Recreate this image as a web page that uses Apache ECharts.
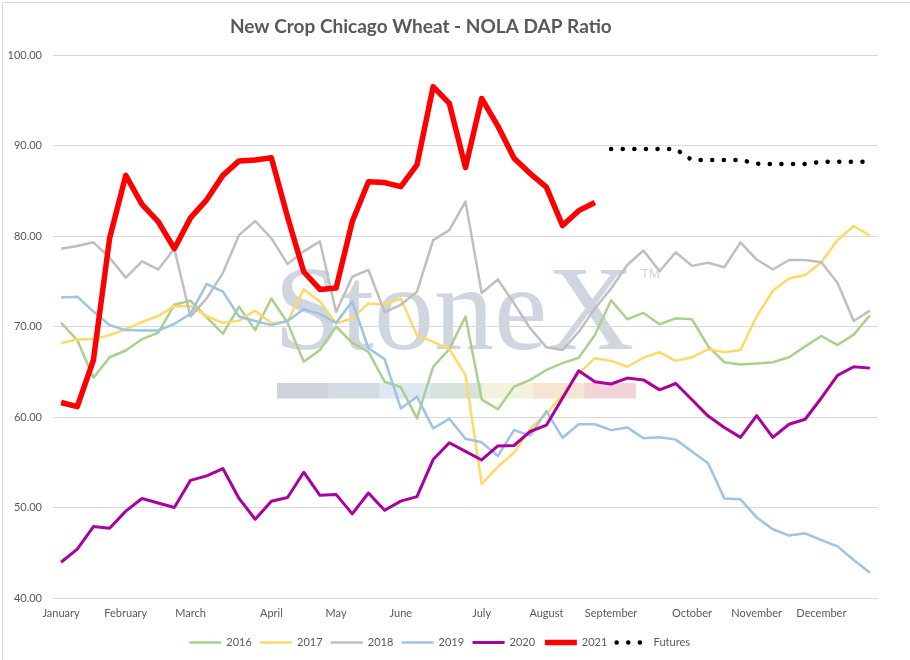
<!DOCTYPE html>
<html>
<head>
<meta charset="utf-8">
<script src="https://cdn.jsdelivr.net/npm/echarts@6/dist/echarts.min.js"></script>
<style>
  html, body { margin: 0; padding: 0; background: #fff; }
  #main { width: 910px; height: 660px; }
</style>
</head>
<body>
<div id="main"></div>
<script>
// month label shown at the first week of each month
var monthNames = ['January','February','March','April','May','June','July','August','September','October','November','December'];
var monthStart = [0,4,8,13,17,21,26,30,34,39,43,47];

var y2016 = [70.4,68.5,64.35,66.6,67.35,68.6,69.3,72.4,72.85,71.0,69.2,72.2,69.6,73.1,70.4,66.1,67.4,70.0,68.2,67.2,63.9,63.3,59.85,65.55,67.5,71.1,61.95,60.85,63.35,64.1,65.2,65.95,66.55,69.05,72.9,70.8,71.5,70.25,70.9,70.8,67.8,66.05,65.8,65.9,66.05,66.6,67.8,68.95,67.95,69.1,71.25];
var y2017 = [68.15,68.6,68.6,69.05,69.7,70.5,71.15,72.25,72.25,71.15,70.4,70.65,71.75,70.35,70.55,74.1,72.75,70.35,70.9,72.55,72.4,73.1,69.05,68.3,67.5,64.65,52.6,54.5,56.05,58.7,60.4,62.4,64.8,66.5,66.2,65.55,66.55,67.15,66.2,66.6,67.5,67.15,67.4,71.1,73.95,75.3,75.7,77.1,79.55,81.1,80.05];
var y2018 = [78.6,78.9,79.3,77.6,75.4,77.2,76.3,78.6,71.1,73.1,75.9,80.1,81.65,79.75,76.9,78.3,79.4,71.6,75.5,76.25,71.6,72.4,73.85,79.55,80.65,83.8,73.7,75.2,72.55,69.8,67.7,67.4,69.4,72.0,74.2,76.8,78.4,76.1,78.2,76.7,77.05,76.55,79.3,77.4,76.3,77.35,77.35,77.1,74.8,70.6,71.75];
var y2019 = [73.2,73.3,71.65,70.15,69.6,69.55,69.55,70.3,71.4,74.7,73.85,71.1,70.6,70.15,70.6,71.9,71.4,70.4,72.75,67.6,66.4,60.95,62.25,58.75,59.8,57.6,57.2,55.7,58.55,57.95,60.65,57.7,59.2,59.2,58.55,58.85,57.65,57.75,57.5,56.2,54.9,51.0,50.9,48.9,47.6,46.9,47.15,46.4,45.7,44.2,42.8];
var y2020 = [43.95,45.4,47.9,47.7,49.6,51.0,50.5,50.0,53.0,53.5,54.3,51.0,48.7,50.7,51.1,53.9,51.35,51.45,49.3,51.6,49.7,50.7,51.2,55.3,57.15,56.2,55.25,56.8,56.85,58.4,59.1,62.1,65.1,63.9,63.65,64.3,64.1,63.0,63.7,61.9,60.1,58.85,57.75,60.15,57.75,59.2,59.75,62.1,64.6,65.55,65.4];
var y2021 = [61.6,61.15,66.3,79.75,86.7,83.5,81.6,78.6,82.0,84.0,86.7,88.3,88.4,88.65,82.1,76.05,74.1,74.25,81.6,86.0,85.9,85.45,87.85,96.5,94.65,87.55,95.2,92.15,88.6,86.9,85.4,81.15,82.8,83.7];
// futures curve starts at the first week of September
var futuresStart = 34;
var futures = [89.6,89.6,89.6,89.6,89.6,88.4,88.4,88.4,88.4,88.0,87.95,87.95,87.95,88.2,88.2,88.2,88.2];

var yTicks = [40,50,60,70,80,90,100];

var weeks = [];
for (var i = 0; i < y2016.length; i++) weeks.push('W' + (i + 1));

var futuresData = [];
for (var j = 0; j < futuresStart; j++) futuresData.push(null);
futuresData = futuresData.concat(futures);

var txt = '#595959';
var font = 'Lato';

var myChart = echarts.init(document.getElementById('main'));

function thin(name, data, color, w) {
  return {
    name: name, type: 'line', data: data, symbol: 'none', showSymbol: false,
    lineStyle: { color: color, width: w || 2.5, join: 'round' },
    itemStyle: { color: color }
  };
}

// stripes under the watermark
var stripeColors = ['#cdd3dc','#d3dbe6','#dce8f2','#d5e4da','#f4f2dd','#f7e4d3','#f1d4d7'];
var stripes = stripeColors.map(function(c, k) {
  return { type: 'rect', left: 277 + k * 51.2, top: 383, z: -10,
    shape: { width: 51.6, height: 15.5 }, style: { fill: c } };
});

var option = {
  animation: false,
  backgroundColor: '#fff',
  title: {
    text: 'New Crop Chicago Wheat - NOLA DAP Ratio',
    left: 225, top: 12,
    textStyle: { fontFamily: font, fontSize: 19, fontWeight: 'bold', color: txt }
  },
  graphic: [
    { type: 'rect', left: 0, top: 0, z: -20,
      shape: { width: 909, height: 659 }, style: { fill: null, stroke: '#d9d9d9', lineWidth: 1 } },
    { type: 'text', left: 274, top: 257, z: -10,
      style: { text: 'StoneX', font: '120px "Liberation Serif"', fill: '#cfd6df' } },
    { type: 'text', left: 641, top: 268, z: -10,
      style: { text: 'TM', font: '13px "Liberation Sans"', fill: '#cfd6df' } }
  ].concat(stripes),
  grid: { left: 53, right: 32, top: 55, bottom: 62 },
  legend: {
    left: 183, top: 632,
    itemWidth: 32, itemHeight: 8, itemGap: 7,
    textStyle: { fontFamily: font, fontSize: 11, color: txt },
    itemStyle: { opacity: 0 },
    lineStyle: { width: 'inherit' },
    data: ['2016','2017','2018','2019','2020','2021','Futures']
  },
  xAxis: {
    type: 'category',
    data: weeks,
    boundaryGap: true,
    axisLine: { lineStyle: { color: '#d9d9d9' } },
    axisTick: { show: false },
    axisLabel: {
      color: txt, fontFamily: font, fontSize: 11, margin: 10,
      interval: function(idx) { return monthStart.indexOf(idx) >= 0; },
      formatter: function(v, idx) {
        var m = monthStart.indexOf(idx);
        return m >= 0 ? monthNames[m] : '';
      }
    }
  },
  yAxis: {
    type: 'value',
    min: yTicks[0], max: yTicks[yTicks.length - 1], interval: 10,
    axisLine: { show: false },
    axisTick: { show: false },
    splitLine: { lineStyle: { color: '#d9d9d9' } },
    axisLabel: {
      color: txt, fontFamily: font, fontSize: 11, margin: 11,
      formatter: function(v) { return v.toFixed(2); }
    }
  },
  series: [
    thin('2016', y2016, '#a9d18e'),
    thin('2017', y2017, '#ffd966'),
    thin('2018', y2018, '#bfbfbf'),
    thin('2019', y2019, '#9dc3e6'),
    thin('2020', y2020, '#aa00a0', 3),
    thin('2021', y2021, '#ff0000', 5.5),
    {
      name: 'Futures', type: 'line', data: futuresData, symbol: 'none', showSymbol: false,
      connectNulls: false,
      lineStyle: { color: '#000', width: 4.5, type: [0.1, 11.5], cap: 'round' },
      itemStyle: { color: '#000' }
    }
  ]
};

myChart.setOption(option);
</script>
</body>
</html>
